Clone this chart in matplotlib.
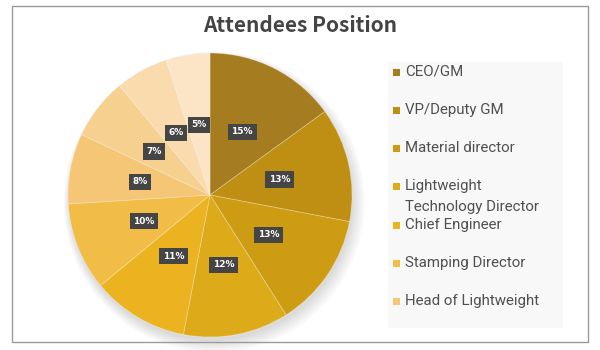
import matplotlib as mpl

mpl.use("agg")
import matplotlib.pyplot as plt
from matplotlib.patches import Rectangle, Circle

# data
positions = [
    "CEO/GM",
    "VP/Deputy GM",
    "Material director",
    "Lightweight\nTechnology Director",
    "Chief Engineer",
    "Stamping Director",
    "Head of Lightweight",
    "R&D Manager",
    "Purchasing Manager",
    "Others",
]
shares = [15, 13, 13, 12, 11, 10, 8, 7, 6, 5]
colors = [
    "#A67C20", "#BE8F13", "#CE9C13", "#DDAA1A", "#EBB31F",
    "#F2BD47", "#F4C676", "#F6D08E", "#F9DBAE", "#FCE5C7",
]
n_legend = 7  # legend box is cut off after the 7th entry

W, H = 600, 350
fig = plt.figure(figsize=(W / 100, H / 100), dpi=100, facecolor="w")

# outer frame
fig.patches.append(Rectangle((12 / W, 1 - 342 / H), 576 / W, 336 / H,
                             transform=fig.transFigure, fill=False,
                             ec="#9a9a9a", lw=1.0))

fig.text(0.5, 1 - 25 / H, "Attendees Position", ha="center", va="center",
         fontsize=15, fontweight="bold", color="#444444",
         family=["Noto Sans CJK SC", "DejaVu Sans"])

# pie
cx, cy, r = 210, 195, 142
ax = fig.add_axes([(cx - r) / W, 1 - (cy + r) / H, 2 * r / W, 2 * r / H])
# soft drop shadow
for k in range(6):
    ax.add_patch(Circle((0.01 + 0.004 * k, -0.03 - 0.004 * k), 1.0 + 0.012 * k,
                        color="#000000", alpha=0.025, lw=0, clip_on=False))
wedges, labels = ax.pie(
    shares, colors=colors, startangle=90, counterclock=False,
    labels=[f"{s}%" for s in shares], labeldistance=0.5,
    wedgeprops=dict(edgecolor=(1, 1, 1, 0.3), linewidth=0.6),
    textprops=dict(color="white", fontsize=6.5, fontweight="bold",
                   ha="center", va="center"),
)
for t in labels:
    t.set_bbox(dict(boxstyle="square,pad=0.4", fc="#454545", ec="none"))
ax.set_xlim(-1, 1)
ax.set_ylim(-1, 1)
ax.set_aspect("equal")
ax.axis("off")

# legend
fig.patches.append(Rectangle((388 / W, 1 - 328 / H), 175 / W, 266 / H,
                             transform=fig.transFigure, fc="#f8f8f8",
                             ec="none", zorder=0))
ys = [72, 110, 148, 186, 225, 263, 301]
for i in range(n_legend):
    y = ys[i]
    fig.patches.append(Rectangle((393 / W, 1 - (y + 3.5) / H), 7 / W, 7 / H,
                                 transform=fig.transFigure, fc=colors[i],
                                 ec="none"))
    lines = positions[i].split("\n")
    for j, line in enumerate(lines):
        fig.text(405 / W, 1 - (y + 21 * j) / H, line, ha="left",
                 va="center", fontsize=10.8, color="#505050", family="Roboto")

fig.savefig("out.png", dpi=100, facecolor="w")
